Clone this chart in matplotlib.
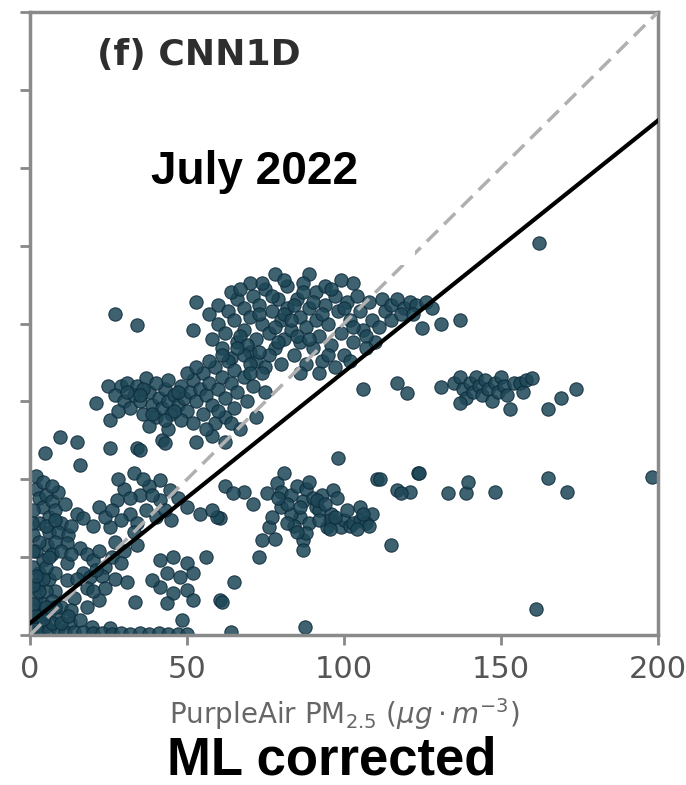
import numpy as np
import matplotlib
matplotlib.use("Agg")
import matplotlib.pyplot as plt
from matplotlib.patches import Rectangle

# ---- data (ug/m3) ----
upper_band = [
    (53, 107), (60, 106), (52, 98), (78, 116), (89, 116), (103, 113), (57, 103), (60, 100),
    (63, 104), (62, 97), (65, 101), (66, 108), (68, 105), (68, 98), (70, 102), (71, 109),
    (72, 95), (73, 106), (74, 100), (75, 111), (76, 97), (77, 104), (78, 92), (79, 108),
    (80, 101), (81, 95), (82, 112), (82, 105), (83, 98), (84, 90), (85, 108), (86, 102),
    (86, 94), (87, 113), (88, 99), (88, 87), (89, 105), (90, 92), (91, 110), (91, 101),
    (92, 96), (93, 88), (94, 106), (95, 100), (96, 93), (97, 109), (98, 104), (99, 97),
    (100, 90), (101, 107), (102, 101), (103, 94), (104, 109), (105, 104), (106, 98),
    (108, 107), (109, 101), (110, 94), (112, 108), (113, 104), (115, 106), (117, 108),
    (119, 105), (121, 107), (123, 106), (126, 107), (128, 105), (107, 96), (111, 99),
    (125, 98.6), (131, 100), (137, 101), (107, 92), (97, 86), (92, 84), (86, 84), (80, 87),
    (76, 90), (70, 91), (66, 94), (74, 113), (81, 114), (94, 112), (99, 114), (64, 110),
    (70, 113), (27, 103), (34, 99.5), (58, 95), (61, 92), (64, 89), (67, 96), (69, 93),
    (72, 88), (75, 86), (78, 99), (81, 103), (84, 106), (87, 110), (90, 107), (93, 103),
    (96, 111), (100, 105), (103, 99), (85, 96), (79, 94), (73, 103), (67, 111), (77, 109),
    (83, 101), (89, 95), (95, 90), (102, 88), (115, 101), (118, 103), (122, 103),
]
middle_band = [
    (21, 74.5), (25, 80), (29, 80), (31, 81), (34, 80), (37, 82.5), (27, 77), (30, 75),
    (32, 73), (33, 77), (35, 75), (36, 71), (38, 78), (39, 74), (40, 70), (41, 76),
    (42, 73), (43, 79), (44, 75), (45, 71), (46, 77), (47, 74), (48, 80), (49, 76),
    (50, 72), (51, 78), (52, 82), (53, 75), (54, 79), (55, 84), (55, 71), (56, 77),
    (57, 81), (58, 74), (59, 86), (59, 68), (60, 79), (61, 83), (62, 76), (62, 70),
    (63, 88), (64, 81), (65, 85), (65, 73), (66, 78), (67, 66), (68, 83), (68, 90),
    (69, 75), (70, 87), (71, 80), (72, 70), (73, 91), (74, 84), (75, 78), (58, 64),
    (53, 62), (42, 62.6), (34, 60), (25.5, 60), (25.5, 69), (38, 67), (44, 66), (62, 62),
    (48, 69), (28, 72), (31, 78), (36, 79), (40, 81), (44, 82), (47, 78), (50, 84),
    (53, 86), (57, 88), (61, 90), (66, 92), (52, 68), (56, 66), (46, 72), (39, 71),
    (43, 69), (60, 72), (64, 68), (70, 84), (35, 77),
]
right_band = [
    (106, 79), (117, 81), (120, 77.7), (131, 79.6), (135, 81), (137, 83), (138, 79),
    (139, 76), (140, 81), (141, 78), (142, 83), (143, 80), (144, 77), (145, 82), (146, 79),
    (147, 75), (148, 81), (149, 78), (150, 83), (151, 80), (152, 77), (153, 72.5), (154, 81),
    (156, 81), (157, 78), (158, 82), (160, 82.5), (137, 74.5), (165, 72.5), (169, 76),
    (174, 79), (162, 126),
]
lower_middle = [
    (98, 57), (123.5, 52), (110.5, 50), (117, 46.5), (121, 46), (115, 29), (109, 39),
    (73, 25), (62, 48), (68, 46), (60.5, 37.5), (64.6, 45.6), (75.5, 45.6), (78.6, 48.8),
    (80, 46), (83, 45), (85, 48), (87, 43), (88, 47), (90, 44), (91, 41), (92, 40), (93, 45),
    (86, 38), (89, 36), (94.6, 34.7), (96, 39), (99, 34.7), (100, 37), (102, 35), (103, 36),
    (105, 37), (107, 36), (108, 35), (111.5, 50), (118, 45.6), (76, 34.7), (74, 30.5),
    (87, 30.5), (96.5, 46.5), (97.7, 44), (83, 39), (91.4, 43.3), (95.5, 37), (88, 32.7),
    (87, 27.3), (80, 41), (77, 38), (84, 35), (82, 42), (95.5, 34), (124, 52), (133, 45.6),
    (139, 45.6), (139.5, 49), (148, 46), (165, 50.4), (171, 46), (198, 50.7), (105, 41),
    (81, 52), (71, 42), (79, 44), (86, 41), (89, 49), (94, 42), (97, 38), (101, 40),
    (104, 34), (82, 36), (78, 31), (85, 33), (92, 37), (106, 39),
]
left_middle = [
    (9.5, 63.6), (15, 62), (4.8, 58.4), (16, 54.6), (2, 47), (3, 44), (4, 41), (5, 45),
    (6, 38), (7, 43), (8, 40), (9, 46), (10, 36), (3, 36), (6, 33), (9, 33), (12, 32),
    (1, 32), (15, 39), (17, 37.5), (33, 52), (41.4, 49.8), (27.7, 43.3), (31.8, 39),
    (37, 40), (25.5, 34.7), (41.4, 43.3), (44.6, 46.5), (30, 47), (35, 45), (38, 48),
    (29, 37), (34, 36), (36, 50), (40, 38), (54, 39), (59.5, 38), (58, 40), (43, 61.6),
    (35, 59.4), (22, 41), (24, 38), (20, 35), (47, 44), (50, 41), (45, 37), (2, 51),
    (4, 49), (7, 48), (1, 40), (5, 35), (8, 37), (11, 42), (13, 35), (28, 50), (32, 44),
    (39, 45), (43, 40), (26, 40), (33, 33),
]
lower_left = [
    (5.4, 29), (11.8, 29.5), (11.8, 23), (11.8, 17.7), (16, 28), (18, 26), (20, 24),
    (22, 27), (24, 22), (17, 20), (19, 18.6), (23, 19), (18, 15), (22, 11.2), (18, 9),
    (12.7, 3.8), (16, 4.8), (19.7, 2.6), (25.5, 2.2), (33.4, 10.6), (48.4, 4.8), (41.4, 24),
    (45.5, 25), (50, 23), (43.6, 20), (47.8, 18.6), (52, 20), (41.4, 15.4), (45.5, 13.5),
    (50, 14.4), (43.6, 10.3), (52, 11.2), (39, 17.7), (56, 25), (60.5, 11.2), (65, 17),
    (61, 10.6), (87.6, 2.6), (64, 1.0), (161, 8.3), (27, 30), (30, 27), (34, 29), (14, 12),
    (8, 14), (0.5, 1), (1, 4), (1.5, 8), (2, 12), (2.5, 16), (3, 20), (1, 22), (2, 2),
    (3, 6), (4, 10), (5, 14), (6, 18), (4, 24), (5, 3), (6, 7), (7, 11), (8, 20), (3, 1),
    (6, 1.5), (9, 2), (9, 6), (10, 9), (11, 1), (14, 1), (13, 8), (17, 1), (20, 0.8),
    (23, 0.8), (26, 0.5), (29, 0.7), (32, 0.5), (35, 0.6), (38, 0.5), (41, 0.6), (44, 0.5),
    (47, 0.4), (50, 0.5), (7, 26), (2, 27), (1, 10), (2, 6), (3, 14), (4, 18), (5, 22),
    (1, 16), (2, 19), (6, 25), (7, 4), (8, 9), (5, 9), (10, 4), (12, 6), (4, 5), (3, 30),
    (1, 27), (0.5, 36), (8, 30), (10, 27), (13, 26), (15, 18), (20, 14), (24, 15),
    (27, 18), (21, 21), (26, 25), (29, 23), (31, 17),
]

fit_slope = 0.807
fit_intercept = 3.8
axis_max = 200
x_ticks = [0, 50, 100, 150, 200]
y_ticks = [0, 25, 50, 75, 100, 125, 150, 175, 200]

points = np.array(upper_band + middle_band + right_band + lower_middle + left_middle + lower_left)

fig = plt.figure(figsize=(6.86, 7.85), dpi=100)
ax = fig.add_axes([0.0437, 0.191, 0.9155, 0.7936])

ax.scatter(points[:, 0], points[:, 1], s=92, facecolor='#1d4757', edgecolor='#0c2a3a',
           linewidth=0.8, alpha=0.85, zorder=2)

line_x = np.array([0, axis_max])
ax.plot(line_x, line_x, ls=(0, (4.5, 2.5)), color='#b0b0b0', lw=2.5, zorder=3)
ax.plot(line_x, fit_intercept + fit_slope * line_x, color='black', lw=3, zorder=4)

ax.set_xlim(0, axis_max)
ax.set_ylim(0, axis_max)
ax.set_xticks(x_ticks)
ax.set_xticklabels([str(t) for t in x_ticks])
ax.set_yticks(y_ticks)
ax.set_yticklabels([])
ax.tick_params(axis='both', colors='#888888', length=7, width=2, labelsize=22,
               labelcolor='#555555', pad=7)
for sp in ax.spines.values():
    sp.set_color('#8a8a8a')
    sp.set_linewidth(2.5)

ax.set_xlabel(r'PurpleAir PM$_{2.5}$ ($\mu g \cdot m^{-3}$)', fontsize=20,
              color='#666666', labelpad=9)

# white patch that hides the region behind the month label
ax.add_patch(Rectangle((0.119, 0.594), 0.494, 0.305, transform=ax.transAxes,
                       facecolor='white', edgecolor='none', zorder=5))
ax.text(0.358, 0.743, 'July 2022', transform=ax.transAxes, ha='center', va='center',
        fontsize=33, fontweight='bold', family=['Liberation Sans', 'DejaVu Sans'], zorder=6)
ax.text(0.107, 0.931, '(f) CNN1D', transform=ax.transAxes, ha='left', va='center',
        fontsize=26, fontweight='bold', color='#2e2e2e', zorder=6)

fig.text(0.484, 0.031, 'ML corrected', ha='center', va='center', fontsize=38,
         fontweight='bold', family=['Liberation Sans', 'DejaVu Sans'])

fig.savefig('out.png', dpi=100, facecolor='white')
